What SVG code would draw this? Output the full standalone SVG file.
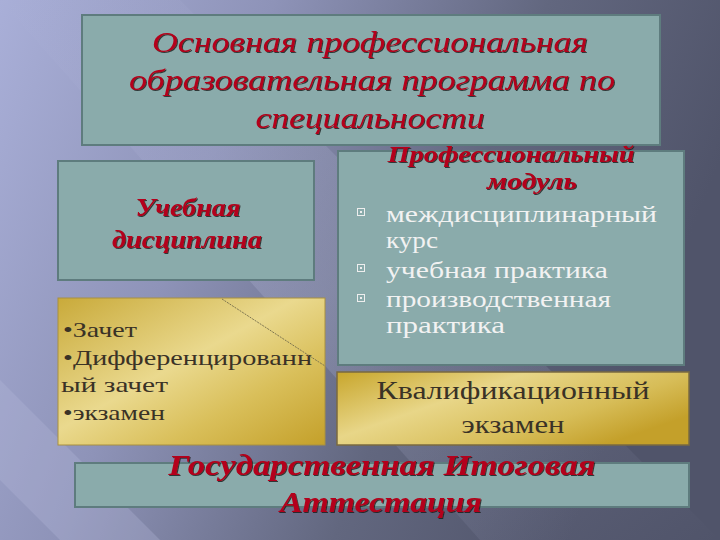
<svg xmlns="http://www.w3.org/2000/svg" width="720" height="540" viewBox="0 0 720 540">
<defs>
<linearGradient id="bg" x1="0" y1="0" x2="1" y2="0.3">
<stop offset="0" stop-color="#a9afd8"/>
<stop offset="0.35" stop-color="#8e93b8"/>
<stop offset="0.7" stop-color="#62677f"/>
<stop offset="1" stop-color="#50546a"/>
</linearGradient>
<linearGradient id="streak" x1="0" y1="0" x2="1" y2="1">
<stop offset="0" stop-color="#c8ccec" stop-opacity="0"/>
<stop offset="0.5" stop-color="#c8ccec" stop-opacity="0.35"/>
<stop offset="1" stop-color="#c8ccec" stop-opacity="0"/>
</linearGradient>
<linearGradient id="gold" x1="0" y1="0" x2="1" y2="1">
<stop offset="0" stop-color="#c9aa3a"/>
<stop offset="0.45" stop-color="#ead98e"/>
<stop offset="0.7" stop-color="#d9bf5a"/>
<stop offset="1" stop-color="#c4a02a"/>
</linearGradient>
<linearGradient id="gold2" x1="0" y1="0" x2="1" y2="0.6">
<stop offset="0" stop-color="#c8a62c"/>
<stop offset="0.4" stop-color="#e8d688"/>
<stop offset="0.75" stop-color="#d7bd58"/>
<stop offset="1" stop-color="#c4a02a"/>
</linearGradient>
<filter id="sh" x="-5%" y="-5%" width="110%" height="120%">
<feDropShadow dx="1" dy="1" stdDeviation="0.6" flood-color="#1a1a1a" flood-opacity="0.8"/>
</filter>
</defs>
<style>
.box{fill:#8aabab;stroke:#5e7c7e;stroke-width:2}
.red{font-style:italic;fill:#b4001a;text-anchor:middle;filter:url(#sh)}
.white{fill:#f2f2f2;font-size:24px}
.dark{fill:#3a3226}
.bul{fill:none;stroke:#eeeeee;stroke-width:1}
</style>
<rect width="720" height="540" fill="url(#bg)"/>
<polygon points="0,0 180,0 720,540 480,540" fill="url(#streak)" opacity="0.6"/>
<polygon points="0,380 160,540 60,540 0,480" fill="#b5b9dc" opacity="0.3"/>

<g font-family="Liberation Serif, Times New Roman, DejaVu Serif, serif">
<g id="title">
<rect class="box" x="82" y="15" width="578" height="130"/>
<text class="red" font-size="30" x="370" y="52" textLength="436" lengthAdjust="spacingAndGlyphs">Основная профессиональная</text>
<text class="red" font-size="30" x="372" y="90" textLength="486" lengthAdjust="spacingAndGlyphs">образовательная программа по</text>
<text class="red" font-size="30" x="370" y="128" textLength="229" lengthAdjust="spacingAndGlyphs">специальности</text>
</g>

<g id="discipline">
<rect class="box" x="58" y="161" width="256" height="119"/>
<text class="red" font-size="25" font-weight="bold" x="188" y="216" textLength="105" lengthAdjust="spacingAndGlyphs">Учебная</text>
<text class="red" font-size="25" font-weight="bold" x="187" y="248" textLength="150" lengthAdjust="spacingAndGlyphs">дисциплина</text>
</g>

<g id="module">
<rect class="box" x="338" y="151" width="346" height="214"/>
<text class="red" font-size="24" font-weight="bold" x="511" y="162" textLength="247" lengthAdjust="spacingAndGlyphs">Профессиональный</text>
<text class="red" font-size="24" font-weight="bold" x="532" y="189" textLength="90" lengthAdjust="spacingAndGlyphs">модуль</text>
<rect class="bul" x="357.5" y="208.5" width="7" height="7"/><rect x="360" y="211" width="2" height="2" fill="#eee"/>
<text class="white" x="386" y="222" textLength="271" lengthAdjust="spacingAndGlyphs">междисциплинарный</text>
<text class="white" x="386" y="248" textLength="52" lengthAdjust="spacingAndGlyphs">курс</text>
<rect class="bul" x="357.5" y="264.5" width="7" height="7"/><rect x="360" y="267" width="2" height="2" fill="#eee"/>
<text class="white" x="386" y="278" textLength="222" lengthAdjust="spacingAndGlyphs">учебная практика</text>
<rect class="bul" x="357.5" y="294.5" width="7" height="7"/><rect x="360" y="297" width="2" height="2" fill="#eee"/>
<text class="white" x="386" y="307" textLength="225" lengthAdjust="spacingAndGlyphs">производственная</text>
<text class="white" x="386" y="333" textLength="119" lengthAdjust="spacingAndGlyphs">практика</text>
</g>

<g id="assessment">
<rect x="58" y="298" width="267" height="147" fill="url(#gold)" stroke="#a89040" stroke-width="1"/>
<text class="dark" font-size="21" x="63" y="337" textLength="74" lengthAdjust="spacingAndGlyphs">•Зачет</text>
<text class="dark" font-size="21" x="63" y="365" textLength="249" lengthAdjust="spacingAndGlyphs">•Дифференцированн</text>
<text class="dark" font-size="21" x="61" y="392" textLength="107" lengthAdjust="spacingAndGlyphs">ый  зачет</text>
<text class="dark" font-size="21" x="63" y="420" textLength="102" lengthAdjust="spacingAndGlyphs">•экзамен</text>
</g>

<g id="qualification">
<rect x="337" y="372" width="352" height="73" fill="url(#gold2)" stroke="#7a6a40" stroke-width="1.5"/>
<text class="dark" font-size="25" x="513" y="399" text-anchor="middle" textLength="273" lengthAdjust="spacingAndGlyphs">Квалификационный</text>
<text class="dark" font-size="25" x="513" y="433" text-anchor="middle" textLength="103" lengthAdjust="spacingAndGlyphs">экзамен</text>
</g>

<g id="final">
<rect class="box" x="75" y="463" width="614" height="44"/>
<text class="red" font-size="30" font-weight="bold" x="382" y="475" textLength="427" lengthAdjust="spacingAndGlyphs">Государственная Итоговая</text>
<text class="red" font-size="30" font-weight="bold" x="381" y="512" textLength="202" lengthAdjust="spacingAndGlyphs">Аттестация</text>
</g>
</g>

<g id="connectors">
<line x1="222" y1="299" x2="325" y2="366" stroke="#7d7550" stroke-width="1" stroke-dasharray="2,1"/>
</g>
</svg>
